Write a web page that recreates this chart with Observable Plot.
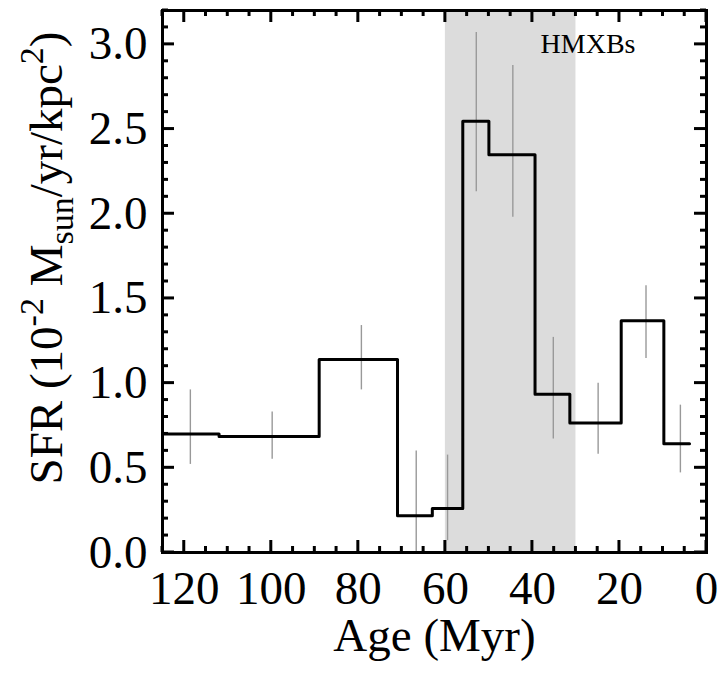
<!DOCTYPE html>
<html>
<head>
<meta charset="utf-8">
<script src="https://cdn.jsdelivr.net/npm/d3@7"></script>
<script src="https://cdn.jsdelivr.net/npm/@observablehq/plot@0.6"></script>
<style>
  html, body { margin: 0; padding: 0; background: #fff; }
  #chart { width: 722px; height: 677px; }
</style>
</head>
<body>
<div id="chart"></div>
<script>
// ---- data ----
const binEdges = [125, 112, 89, 71, 63, 56, 50, 39.4, 31.4, 19.6, 9.8, 3.9]; // Age (Myr)
const sfr      = [0.70, 0.685, 1.14, 0.217, 0.26, 2.546, 2.349, 0.935, 0.764, 1.368, 0.642];
const errAge   = [118.6, 99.8, 79.3, 66.7, 59.5, 52.9, 44.5, 35.2, 24.9, 13.9, 6.0];
const errLo    = [0.52, 0.55, 0.96, -0.2, 0.07, 2.13, 1.98, 0.67, 0.58, 1.145, 0.47];
const errHi    = [0.96, 0.83, 1.34, 0.60, 0.575, 3.07, 2.875, 1.27, 1.00, 1.575, 0.87];
const hmxbRange = [60, 30];
const xMajor = [120, 100, 80, 60, 40, 20, 0];
const xMinor = d3.range(0, 126, 5).filter(v => v % 20 !== 0);
const yMajor = [0.0, 0.5, 1.0, 1.5, 2.0, 2.5, 3.0];
const yMinor = d3.range(0, 33).map(i => i / 10).filter(v => Math.abs(v * 2 - Math.round(v * 2)) > 1e-6);

// ---- derived tables ----
const stepData = binEdges.map((e, i) => ({age: e, sfr: sfr[Math.min(i, sfr.length - 1)]}));
const errData = errAge.map((a, i) => ({age: a, lo: errLo[i], hi: errHi[i]}));

// ---- layout ----
const chartW = 722, chartH = 677;
const margins = {left: 162, right: 16, top: 10, bottom: 125};
const xDomain = [125, 0], yDomain = [0, 3.2];
const FONT = "Liberation Serif, Times New Roman, serif";
const FS = 47;
const LW = 3;
const MAJ = 12, MIN = 6;

const chart = Plot.plot({
  width: chartW,
  height: chartH,
  marginLeft: margins.left,
  marginRight: margins.right,
  marginTop: margins.top,
  marginBottom: margins.bottom,
  style: {fontFamily: FONT, background: "#fff", color: "#000"},
  x: {domain: xDomain, axis: null},
  y: {domain: yDomain, axis: null},
  marks: [
    Plot.rect([hmxbRange], {x1: d => d[0], x2: d => d[1], fill: "#dcdcdc"}),
    Plot.ruleX(errData, {x: "age", y1: "lo", y2: "hi", stroke: "#999", strokeWidth: 1.4, clip: true}),
    Plot.line(stepData, {x: "age", y: "sfr", curve: "step-after", stroke: "#000", strokeWidth: LW}),
    Plot.text(["HMXBs"], {frameAnchor: "top-right", textAnchor: "end", lineAnchor: "top", dx: -71, dy: 23, fontSize: 28, fontFamily: FONT, fill: "#000"}),
    Plot.frame({stroke: "#000", strokeWidth: LW}),
    Plot.axisX({anchor: "bottom", ticks: xMajor, tickSize: 0, tickPadding: 18, fontSize: FS, fontFamily: FONT, tickFormat: d => String(d), label: null}),
    Plot.axisY({anchor: "left", ticks: yMajor, tickSize: 0, tickPadding: 15, fontSize: FS, fontFamily: FONT, tickFormat: d => d.toFixed(1), label: null}),
    Plot.text(["Age (Myr)"], {frameAnchor: "bottom", dy: 98, fontSize: FS, fontFamily: FONT, fill: "#000"})
  ]
});

document.getElementById("chart").appendChild(chart);

const svgSel = d3.select(chart);

// inward-pointing ticks on all four sides, placed with the plot's own scales
try {
  const sx = chart.scale("x"), sy = chart.scale("y");
  const fLeft = Math.min(...sx.range), fRight = Math.max(...sx.range);
  const fBottom = Math.max(...sy.range), fTop = Math.min(...sy.range);
  const tickG = svgSel.append("g").attr("stroke", "#000").attr("stroke-width", LW).attr("aria-label", "ticks");
  for (const [ticks, len] of [[xMajor, MAJ], [xMinor, MIN]]) {
    for (const v of ticks) {
      const px = sx.apply(v);
      tickG.append("line").attr("x1", px).attr("x2", px).attr("y1", fBottom).attr("y2", fBottom - len);
      tickG.append("line").attr("x1", px).attr("x2", px).attr("y1", fTop).attr("y2", fTop + len);
    }
  }
  for (const [ticks, len] of [[yMajor, MAJ], [yMinor, MIN]]) {
    for (const v of ticks) {
      const py = sy.apply(v);
      tickG.append("line").attr("y1", py).attr("y2", py).attr("x1", fLeft).attr("x2", fLeft + len);
      tickG.append("line").attr("y1", py).attr("y2", py).attr("x1", fRight).attr("x2", fRight - len);
    }
  }
} catch (e) {
  console.error(e);
}

// Y-axis title with super/subscripts
const SUB = 34;
const yTitle = svgSel.append("text")
  .attr("transform", "translate(62,258) rotate(-90)")
  .attr("text-anchor", "middle")
  .attr("font-family", FONT)
  .attr("font-size", FS)
  .attr("fill", "#000");
yTitle.append("tspan").text("SFR (10");
yTitle.append("tspan").attr("font-size", SUB).attr("dy", -19).text("-2");
yTitle.append("tspan").attr("font-size", FS).attr("dy", 19).text(" M");
yTitle.append("tspan").attr("font-size", SUB).attr("dy", 11).text("sun");
yTitle.append("tspan").attr("font-size", FS).attr("dy", -11).text("/yr/kpc");
yTitle.append("tspan").attr("font-size", SUB).attr("dy", -19).text("2");
yTitle.append("tspan").attr("font-size", FS).attr("dy", 19).text(")");
</script>
</body>
</html>
